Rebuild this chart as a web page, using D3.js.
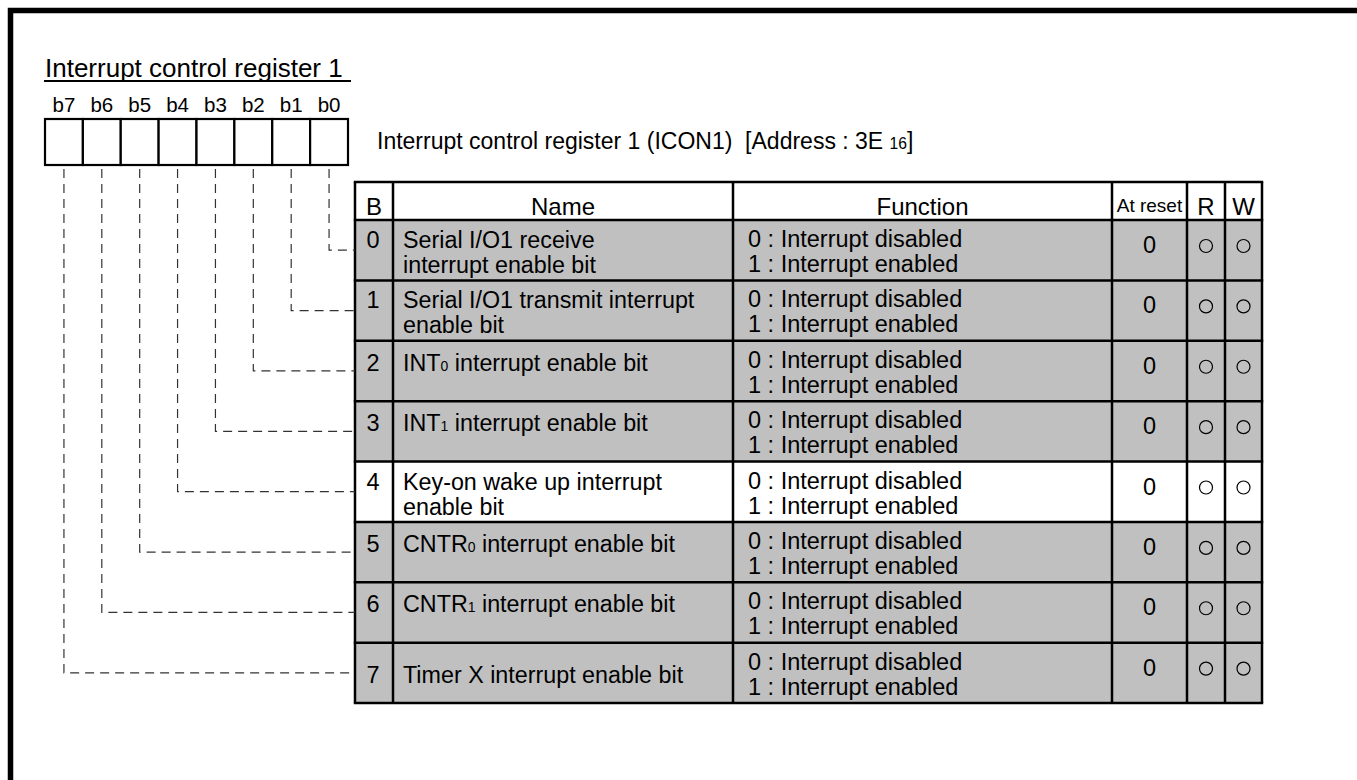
<!DOCTYPE html>
<html>
<head>
<meta charset="utf-8">
<script src="https://cdn.jsdelivr.net/npm/d3@7/dist/d3.min.js"></script>
<style>
  html, body { margin: 0; padding: 0; background: #fff; }
  svg { display: block; }
  text { font-family: "Liberation Sans", Arial, Helvetica, sans-serif; fill: #000; white-space: pre; }
</style>
</head>
<body>
<script>
// ---------------- data ----------------
const registerTitle = "Interrupt control register 1";
const registerCaption = "Interrupt control register 1 (ICON1)  [Address : 3E _{16}]";
const bitLabels = ["b7", "b6", "b5", "b4", "b3", "b2", "b1", "b0"];
const bitNumbers = [0, 1, 2, 3, 4, 5, 6, 7];
const headers = ["B", "Name", "Function", "At reset", "R", "W"];
const bitNames = [
  ["Serial I/O1 receive", "interrupt enable bit"],
  ["Serial I/O1 transmit interrupt", "enable bit"],
  ["INT_{0} interrupt enable bit"],
  ["INT_{1} interrupt enable bit"],
  ["Key-on wake up interrupt", "enable bit"],
  ["CNTR_{0} interrupt enable bit"],
  ["CNTR_{1} interrupt enable bit"],
  ["Timer X interrupt enable bit"]
];
const bitFunctions = [
  ["0 : Interrupt disabled", "1 : Interrupt enabled"],
  ["0 : Interrupt disabled", "1 : Interrupt enabled"],
  ["0 : Interrupt disabled", "1 : Interrupt enabled"],
  ["0 : Interrupt disabled", "1 : Interrupt enabled"],
  ["0 : Interrupt disabled", "1 : Interrupt enabled"],
  ["0 : Interrupt disabled", "1 : Interrupt enabled"],
  ["0 : Interrupt disabled", "1 : Interrupt enabled"],
  ["0 : Interrupt disabled", "1 : Interrupt enabled"]
];
const resetValues = ["0", "0", "0", "0", "0", "0", "0", "0"];
const readable = [true, true, true, true, true, true, true, true];
const writable = [true, true, true, true, true, true, true, true];
const shadedRows = [true, true, true, true, false, true, true, true];

// ---------------- layout ----------------
const W = 1357, H = 780;
const svg = d3.select("body").append("svg").attr("width", W).attr("height", H);

// frame
svg.append("rect").attr("x", 10.5).attr("y", 10.5).attr("width", 1500).attr("height", 1000)
  .attr("fill", "none").attr("stroke", "#000").attr("stroke-width", 5.5);

// helper to write text with _{sub} markup
function richText(sel, str, smallScale) {
  const parts = str.split(/(_\{[^}]*\})/);
  parts.forEach(p => {
    if (!p) return;
    const m = p.match(/^_\{([^}]*)\}$/);
    if (m) {
      sel.append("tspan").attr("font-size", (smallScale || 0.62) + "em").text(m[1]);
    } else {
      sel.append("tspan").text(p);
    }
  });
}

// title
svg.append("text").attr("x", 45).attr("y", 77).attr("font-size", 26).text(registerTitle);
svg.append("line").attr("x1", 44).attr("x2", 351).attr("y1", 81).attr("y2", 81)
  .attr("stroke", "#000").attr("stroke-width", 2);

// register boxes
const xBox = d3.scaleBand().domain(bitLabels).range([45, 348]).padding(0);
const boxTop = 119, boxBottom = 165;
svg.append("g").selectAll("text").data(bitLabels).join("text")
  .attr("x", d => xBox(d) + xBox.bandwidth() / 2).attr("y", 112)
  .attr("text-anchor", "middle").attr("font-size", 20.5).text(d => d);
svg.append("g").selectAll("rect").data(bitLabels).join("rect")
  .attr("x", d => xBox(d)).attr("y", boxTop)
  .attr("width", xBox.bandwidth()).attr("height", boxBottom - boxTop)
  .attr("fill", "#fff").attr("stroke", "#000").attr("stroke-width", 2.2);

// caption
const cap = svg.append("text").attr("x", 377).attr("y", 149).attr("font-size", 23);
richText(cap, registerCaption, 0.68);

// table
const cols = [355, 393, 733, 1112, 1187, 1225, 1262];
const headTop = 182, headBottom = 220, tableBottom = 703;
const yRow = d3.scaleBand().domain(bitNumbers).range([headBottom, tableBottom]).padding(0);
// baseline offsets of the name / bit-number line within each row
const nameBase = bitNames.map((n, i) => n.length === 2 ? 28 : (i === 7 ? 40 : 30));

const gT = svg.append("g");
// row fills
gT.selectAll("rect.row").data(bitNumbers).join("rect").attr("class", "row")
  .attr("x", cols[0]).attr("y", d => yRow(d))
  .attr("width", cols[6] - cols[0]).attr("height", yRow.bandwidth())
  .attr("fill", (d, i) => shadedRows[i] ? "#c0c0c0" : "#fff");

// header texts
const headFont = [24, 24, 24, 19, 24, 24];
gT.selectAll("text.head").data(headers).join("text").attr("class", "head")
  .attr("x", (d, i) => (cols[i] + cols[i + 1]) / 2).attr("y", (d, i) => i === 3 ? 212 : 215)
  .attr("text-anchor", "middle").attr("font-size", (d, i) => headFont[i]).text(d => d);

// bit numbers
gT.selectAll("text.bnum").data(bitNumbers).join("text").attr("class", "bnum")
  .attr("x", (cols[0] + cols[1]) / 2 - 1).attr("y", (d, i) => yRow(d) + nameBase[i])
  .attr("text-anchor", "middle").attr("font-size", 23.5).text(d => d);

// names and functions
bitNumbers.forEach((b, i) => {
  bitNames[i].forEach((ln, k) => {
    const t = gT.append("text").attr("x", cols[1] + 10).attr("y", yRow(b) + nameBase[i] + k * 25)
      .attr("font-size", 23.3);
    richText(t, ln, 0.6);
  });
  bitFunctions[i].forEach((ln, k) => {
    gT.append("text").attr("x", cols[2] + 15).attr("y", yRow(b) + 27 + k * 25)
      .attr("font-size", 23.5).text(ln);
  });
});

// reset values
gT.selectAll("text.rst").data(resetValues).join("text").attr("class", "rst")
  .attr("x", (cols[3] + cols[4]) / 2).attr("y", (d, i) => yRow(bitNumbers[i]) + 33)
  .attr("text-anchor", "middle").attr("font-size", 23.5).text(d => d);

// R / W circles
gT.selectAll("circle.r").data(readable).join("circle").attr("class", "r")
  .attr("cx", (cols[4] + cols[5]) / 2).attr("cy", (d, i) => yRow(bitNumbers[i]) + 26)
  .attr("r", d => d ? 6.5 : 0).attr("fill", "none").attr("stroke", "#000").attr("stroke-width", 1.2);
gT.selectAll("circle.w").data(writable).join("circle").attr("class", "w")
  .attr("cx", (cols[5] + cols[6]) / 2).attr("cy", (d, i) => yRow(bitNumbers[i]) + 26)
  .attr("r", d => d ? 6.5 : 0).attr("fill", "none").attr("stroke", "#000").attr("stroke-width", 1.2);

// grid lines
const hLines = [headTop, headBottom].concat(bitNumbers.map(b => yRow(b) + yRow.bandwidth()));
gT.selectAll("line.h").data(hLines).join("line").attr("class", "h")
  .attr("x1", cols[0] - 1.2).attr("x2", cols[6] + 1.2).attr("y1", d => d).attr("y2", d => d)
  .attr("stroke", "#000").attr("stroke-width", 2.5);
gT.selectAll("line.v").data(cols).join("line").attr("class", "v")
  .attr("x1", d => d).attr("x2", d => d).attr("y1", headTop).attr("y2", tableBottom)
  .attr("stroke", "#000").attr("stroke-width", 2.5);

// dashed leader lines
const gL = svg.append("g").attr("fill", "none").attr("stroke", "#333").attr("stroke-width", 1.2)
  .attr("stroke-dasharray", "9,6");
bitNumbers.forEach(b => {
  const lbl = "b" + b;
  const x = xBox(lbl) + xBox.bandwidth() / 2;
  const y = yRow(b) + yRow.bandwidth() / 2;
  gL.append("path").attr("d", `M${x},${boxBottom + 4} L${x},${y} L${cols[0]},${y}`);
});
</script>
</body>
</html>
